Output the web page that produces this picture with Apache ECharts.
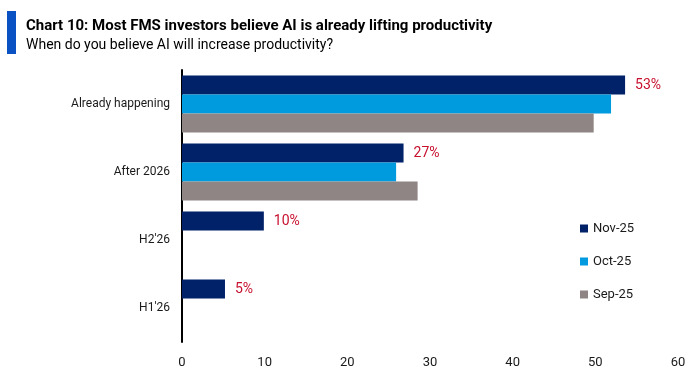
<!DOCTYPE html>
<html>
<head>
<meta charset="utf-8">
<script src="https://cdn.jsdelivr.net/npm/echarts@6/dist/echarts.min.js"></script>
<style>
html,body{margin:0;padding:0;background:#fff;}
#chart{width:692px;height:381px;}
</style>
</head>
<body>
<div id="chart"></div>
<script>
const categories = ["Already happening", "After 2026", "H2'26", "H1'26"];
const seriesNames = ["Nov-25", "Oct-25", "Sep-25"];
const nov25 = [53.6, 26.8, 9.9, 5.2];
const oct25 = [51.9, 25.9, null, null];
const sep25 = [49.8, 28.5, null, null];
const novLabels = ["53%", "27%", "10%", "5%"];
const xTicks = [0, 10, 20, 30, 40, 50, 60];

const FONT = "Roboto, 'Open Sans', sans-serif";
const colors = ["#012169", "#009ADE", "#8E8584"];

const chart = echarts.init(document.getElementById('chart'), null, {renderer: 'canvas'});
const mk = (name, data, color, withLabel) => ({
  name: name,
  type: 'bar',
  data: data,
  barWidth: 19,
  barGap: '0%',
  itemStyle: {color: color},
  animation: false,
  label: withLabel ? {
    show: true,
    position: 'right',
    distance: 10,
    color: '#C8102E',
    fontFamily: FONT,
    fontSize: 14,
    formatter: p => novLabels[p.dataIndex]
  } : {show: false}
});

chart.setOption({
  animation: false,
  color: colors,
  graphic: [
    {type: 'rect', shape: {x: 7, y: 11, width: 9, height: 43}, style: {fill: '#0A52C4'}},
    {type: 'text', left: 26, top: 19, style: {text: 'Chart 10: Most FMS investors believe AI is already lifting productivity', font: "bold 15px " + FONT, fill: '#000'}},
    {type: 'text', left: 26, top: 38, style: {text: 'When do you believe AI will increase productivity?', font: "14px " + FONT, fill: '#000'}}
  ],
  legend: {
    data: seriesNames,
    orient: 'vertical',
    left: 575,
    top: 217,
    itemWidth: 8,
    itemHeight: 8,
    itemGap: 20,
    icon: 'rect',
    textStyle: {fontFamily: FONT, fontSize: 13, color: '#1a1a1a'}
  },
  grid: {left: 182, right: 14, top: 70, bottom: 39, containLabel: false},
  xAxis: {
    type: 'value',
    min: xTicks[0],
    max: xTicks[xTicks.length - 1],
    interval: 10,
    axisLine: {show: false},
    axisTick: {show: false},
    splitLine: {show: false},
    axisLabel: {fontFamily: FONT, fontSize: 13, color: '#1a1a1a', margin: 14}
  },
  yAxis: {
    type: 'category',
    data: categories,
    inverse: true,
    axisLine: {show: true, lineStyle: {color: '#000', width: 2}},
    axisTick: {show: false},
    axisLabel: {fontFamily: FONT, fontSize: 12, color: '#1a1a1a', margin: 12}
  },
  series: [
    mk(seriesNames[0], nov25, colors[0], true),
    mk(seriesNames[1], oct25, colors[1], false),
    mk(seriesNames[2], sep25, colors[2], false)
  ]
});
</script>
</body>
</html>
